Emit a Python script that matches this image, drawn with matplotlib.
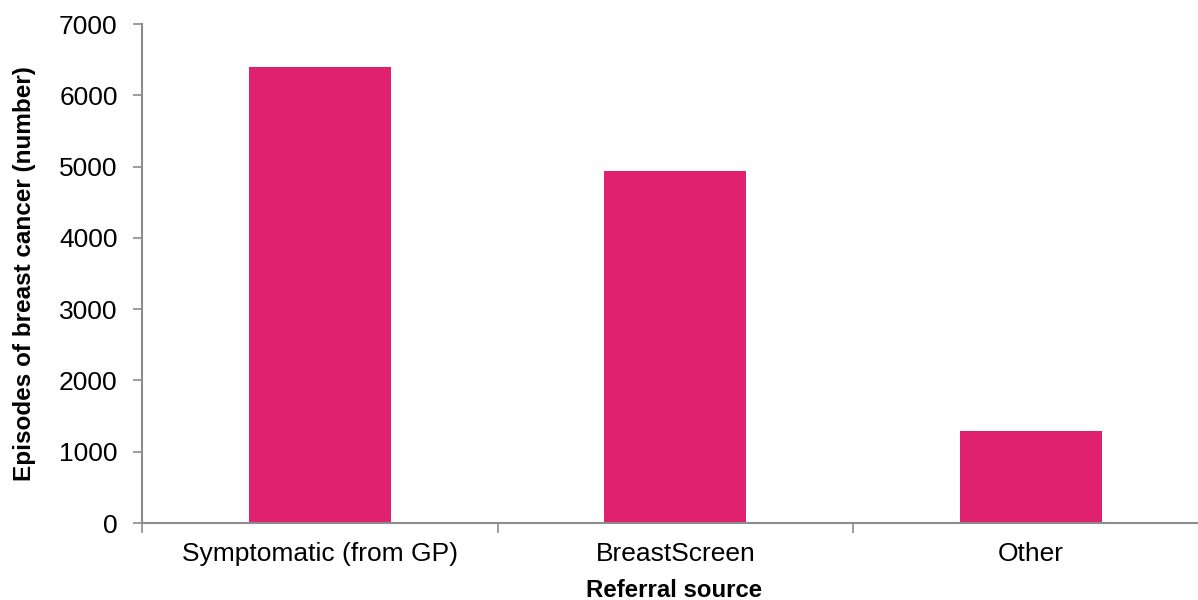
import numpy as np
import matplotlib.pyplot as plt

plt.rcParams['font.family'] = ['Liberation Sans', 'DejaVu Sans']

# Episodes of breast cancer by referral source
categories = ['Symptomatic (from GP)', 'BreastScreen', 'Other']
episodes = [6400, 4940, 1290]

bar_color = '#E0216F'
axis_grey = '#8C8C8C'

fig = plt.figure(figsize=(11.98, 6.0), dpi=100)
ax = fig.add_axes([0.1185, 0.1283, 0.8905, 0.8317])

x = np.arange(len(categories))
ax.bar(x, episodes, width=0.4, color=bar_color, zorder=2)

ax.set_xlim(-0.5, len(categories) - 0.5)
ax.set_ylim(0, 7000)
ax.set_yticks(np.arange(0, 7001, 1000))

# category labels centred, divider ticks between categories
ax.set_xticks(x)
ax.set_xticklabels(categories)
ax.set_xticks(np.arange(-0.5, len(categories), 1.0), minor=True)
ax.tick_params(axis='x', which='major', length=0, pad=14, labelsize=19)
ax.tick_params(axis='x', which='minor', length=7, width=1.2, color=axis_grey)
ax.tick_params(axis='y', length=6.5, width=1.2, color=axis_grey, pad=11, labelsize=19)

for side in ['top', 'right']:
    ax.spines[side].set_visible(False)
for side in ['left', 'bottom']:
    ax.spines[side].set_color(axis_grey)
    ax.spines[side].set_linewidth(1.5)

ax.set_ylabel('Episodes of breast cancer (number)', fontsize=17.5, fontweight='bold')
ax.yaxis.set_label_coords(-0.0994, 0.5)
ax.set_xlabel('Referral source', fontsize=17.3, fontweight='bold')
ax.xaxis.set_label_coords(0.499, -0.112)

fig.savefig('out.png', dpi=100)
